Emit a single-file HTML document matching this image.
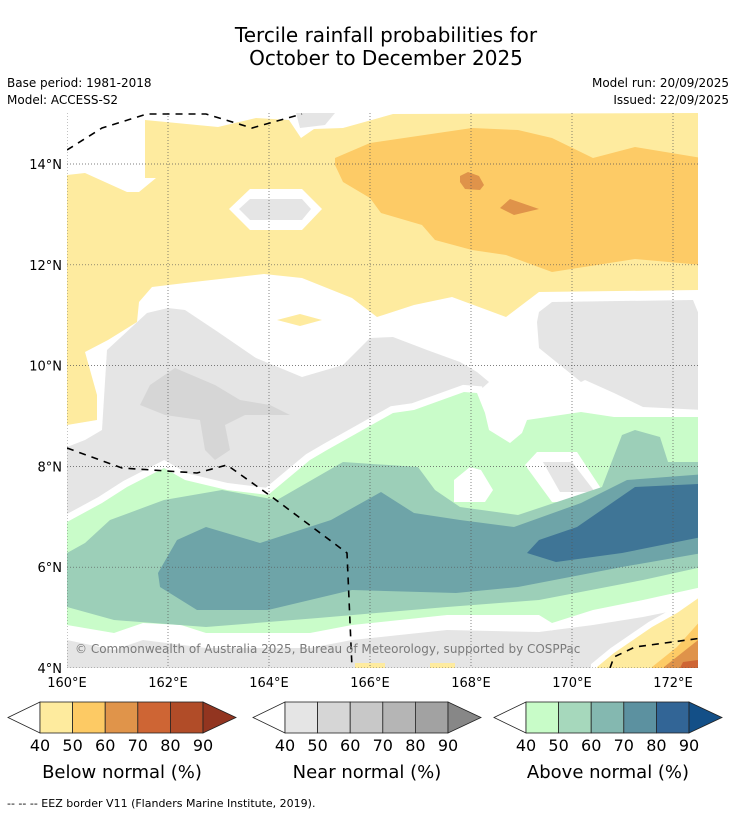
<!DOCTYPE html>
<html><head><meta charset="utf-8"><style>
body{margin:0;background:#fff;width:736px;height:816px;overflow:hidden;font-family:"Liberation Sans","DejaVu Sans",sans-serif}
svg{display:block}
</style></head><body>
<svg id="s" width="736" height="816" viewBox="0 0 736 816" xmlns="http://www.w3.org/2000/svg" font-family="DejaVu Sans, Liberation Sans, sans-serif">
<text x="386" y="42" text-anchor="middle" font-size="20" fill="#000">Tercile rainfall probabilities for</text>
<text x="386" y="65" text-anchor="middle" font-size="20" fill="#000">October to December 2025</text>
<text x="7" y="87" font-size="12">Base period: 1981-2018</text>
<text x="7" y="104" font-size="12">Model: ACCESS-S2</text>
<text x="729" y="87" font-size="12" text-anchor="end">Model run: 20/09/2025</text>
<text x="729" y="104" font-size="12" text-anchor="end">Issued: 22/09/2025</text>
<defs><clipPath id="mc"><rect x="67" y="113" width="631" height="555"/></clipPath></defs>
<g id="map" clip-path="url(#mc)">
<polygon fill="#feeb9f" points="67,175 85,173 127,192 139,192 156,178 145,178 145,120 218,127 256,118 289,120 301,138 314,129 343,128 393,114 702,113 702,290 539,292 506,317 452,297 414,305 377,317 352,298 302,278 264,274 185,283 152,287 139,302 137,322 108,340 85,352 97,395 97,420 67,425"/>
<polygon fill="#e5e5e5" points="296,113 335,113 325,125 300,128"/>
<polygon fill="#fff" points="229,209 250,189 302,189 322,209 302,230 250,230"/>
<polygon fill="#e5e5e5" points="239,209 250,199 302,199 311,209 302,220 250,220"/>
<polygon fill="#fdcb66" points="335,158 370,143 472,128 518,130 552,138 593,158 635,147 702,158 702,265 635,259 552,272 506,255 472,250 435,240 422,225 381,213 370,198 343,182 335,165"/>
<polygon fill="#df934a" points="460,176 468,172 479,176 484,185 480,190 465,189 460,182"/>
<polygon fill="#df934a" points="500,208 510,199 539,209 514,215"/>
<polygon fill="#feeb9f" points="277,320 300,314 322,320 300,326"/>
<polygon fill="#e5e5e5" points="67,447 85,440 102,430 107,350 147,313 168,308 185,310 218,332 256,358 302,377 343,365 370,338 393,337 427,350 460,362 477,372 489,382 477,393 464,392 393,413 310,460 268,495 227,490 185,480 164,468 127,487 102,503 67,515"/>
<polygon fill="#e5e5e5" points="537,322 539,312 552,302 693,300 702,322 702,410 643,407 614,393 585,380 581,382 539,348"/>
<polygon fill="#d6d6d6" points="140,405 150,385 175,368 215,385 240,400 270,405 290,415 245,415 225,425 230,450 215,460 205,450 200,420 165,415"/>
<polygon fill="#e5e5e5" points="67,640 114,650 143,640 206,648 310,648 352,640 447,630 539,632 593,625 643,617 702,605 702,668 67,668"/>
<polygon fill="#c9fcc9" stroke="#fff" stroke-width="14" stroke-linejoin="miter" points="67,522 102,503 127,487 164,468 185,480 227,490 268,495 310,460 327,450 393,413 414,410 464,392 477,393 485,413 489,430 510,443 522,433 527,420 581,412 614,417 720,417 720,587 702,587 643,600 593,610 552,623 539,615 447,615 352,625 310,633 206,633 181,625 143,623 114,633 67,625 50,625 50,522"/>
<polygon fill="#c9fcc9" points="67,522 102,503 127,487 164,468 185,480 227,490 268,495 310,460 327,450 393,413 414,410 464,392 477,393 485,413 489,430 510,443 522,433 527,420 581,412 614,417 720,417 720,587 702,587 643,600 593,610 552,623 539,615 447,615 352,625 310,633 206,633 181,625 143,623 114,633 67,625 50,625 50,522"/>
<polygon fill="#fff" points="454,480 470,467 481,470 493,490 485,502 454,502"/>
<polygon fill="#fff" points="525,465 537,452 577,452 602,490 597,502 552,502"/>
<polygon fill="#e5e5e5" points="543,462 572,462 595,492 560,492"/>
<polygon fill="#9ccfb8" points="50,553 67,553 85,543 110,520 164,500 222,490 277,500 343,462 418,467 435,490 460,507 518,515 602,487 622,435 635,430 660,437 668,462 720,462 720,567 702,567 643,580 539,600 447,607 318,618 206,627 114,620 67,607 50,607"/>
<polygon fill="#6ea4a8" points="158,573 177,540 206,527 260,543 331,520 381,492 414,513 460,520 514,527 581,503 627,480 720,473 720,553 702,553 622,567 518,587 456,593 352,590 268,610 197,610 160,587"/>
<polygon fill="#3f7596" points="527,553 539,540 577,527 635,487 720,483 720,537 702,537 622,553 556,562"/>
<polygon fill="#feeb9f" stroke="#fff" stroke-width="12" points="597,667 614,653 652,627 677,613 710,590 710,680 597,680"/>
<polygon fill="#feeb9f" points="597,667 614,653 652,627 677,613 710,590 710,680 597,680"/>
<polygon fill="#fdcb66" points="652,667 677,647 710,610 710,680 652,680"/>
<polygon fill="#df934a" points="664,667 702,637 710,635 710,680 664,680"/>
<polygon fill="#ce6534" points="680,668 683,662 698,660 698,668"/>
<rect x="355" y="663" width="30" height="6" fill="#feeb9f"/>
<rect x="430" y="663" width="25" height="6" fill="#feeb9f"/>
<g id="grid"></g>
<g fill="none" stroke="#000" stroke-width="1.6" stroke-dasharray="7,6">
<polyline points="67,150 102,128 147,114 206,114 252,128 302,114"/>
<polyline points="67,448 122,468 197,473 227,465 272,497 347,553 352,668"/>
<polyline points="610,668 614,657 635,647 702,638"/>
</g>
<text x="75" y="653" font-size="12" fill="#7a7a7a">© Commonwealth of Australia 2025, Bureau of Meteorology, supported by COSPPac</text>
</g>
<g id="axes"></g>
<g id="cbars"></g>
<text x="7" y="807" font-size="11">--  --  -- EEZ border V11 (Flanders Marine Institute, 2019).</text>
</svg>
<script>
const lonTicks=[160,162,164,166,168,170,172];
const latTicks=[4,6,8,10,12,14];
const cbLevels=[40,50,60,70,80,90];
const cbTitles=["Below normal (%)","Near normal (%)","Above normal (%)"];
const belowColors=["#feeb9e","#fdca64","#e0944a","#ce6534","#b14c28","#923520"];
const nearColors=["#e5e5e5","#d6d6d6","#c8c8c8","#b5b5b5","#a2a2a2","#878787"];
const aboveColors=["#c8fcc8","#a6d8bc","#84b8b0","#5c91a0","#326596","#134f87"];
const NS="http://www.w3.org/2000/svg";
const xLon=l=>67+(l-160)*50.5;
const yLat=l=>668-(l-4)*50.4;
function mk(t,a,p){const e=document.createElementNS(NS,t);for(const k in a)e.setAttribute(k,a[k]);p.appendChild(e);return e;}
const grid=document.getElementById('grid'),axes=document.getElementById('axes');
lonTicks.forEach(l=>{
 const g=mk('line',{x1:xLon(l),x2:xLon(l),y1:113,y2:668,stroke:'#555','stroke-width':0.7,'stroke-dasharray':'1,2'},grid);
 
 
 const t=mk('text',{x:xLon(l),y:687,'font-size':13,'text-anchor':'middle'},axes);t.textContent=l+'°E';
 
 
});
latTicks.forEach(l=>{
 const g=mk('line',{x1:67,x2:698,y1:yLat(l),y2:yLat(l),stroke:'#555','stroke-width':0.7,'stroke-dasharray':'1,2'},grid);
 
 
 const t=mk('text',{x:62,y:yLat(l)+5,'font-size':13,'text-anchor':'end'},axes);t.textContent=l+'°N';
 
 
});
const cb=document.getElementById('cbars');
const sets=[belowColors,nearColors,aboveColors];
const starts=[8,253,494];
sets.forEach((cols,i)=>{
 const x0=starts[i],bx=x0+32,w=32.6,y0=702,y1=733,ym=717.5;
 const bxEnd=bx+w*(cbLevels.length-1);
 const lt=mk('polygon',{points:`${x0},${ym} ${bx},${y0} ${bx},${y1}`,fill:'#fff',stroke:'#222','stroke-width':0.8},cb);
 
 
 for(let k=0;k<cbLevels.length-1;k++){
  const r=mk('rect',{x:bx+k*w,y:y0,width:w,height:y1-y0,fill:cols[k],stroke:'#222','stroke-width':0.8},cb);
  
  
 }
 const rt=mk('polygon',{points:`${bxEnd},${y0} ${bxEnd+33},${ym} ${bxEnd},${y1}`,fill:cols[5],stroke:'#222','stroke-width':0.8},cb);
 
 
 cbLevels.forEach((v,k)=>{
  const t=mk('text',{x:bx+k*w,y:751,'font-size':16,'text-anchor':'middle'},cb);t.textContent=v;
  
  
 });
 const tt=mk('text',{x:(x0+bxEnd+33)/2,y:778,'font-size':18,'text-anchor':'middle'},cb);tt.textContent=cbTitles[i];
 
 
});
</script>
</body></html>
